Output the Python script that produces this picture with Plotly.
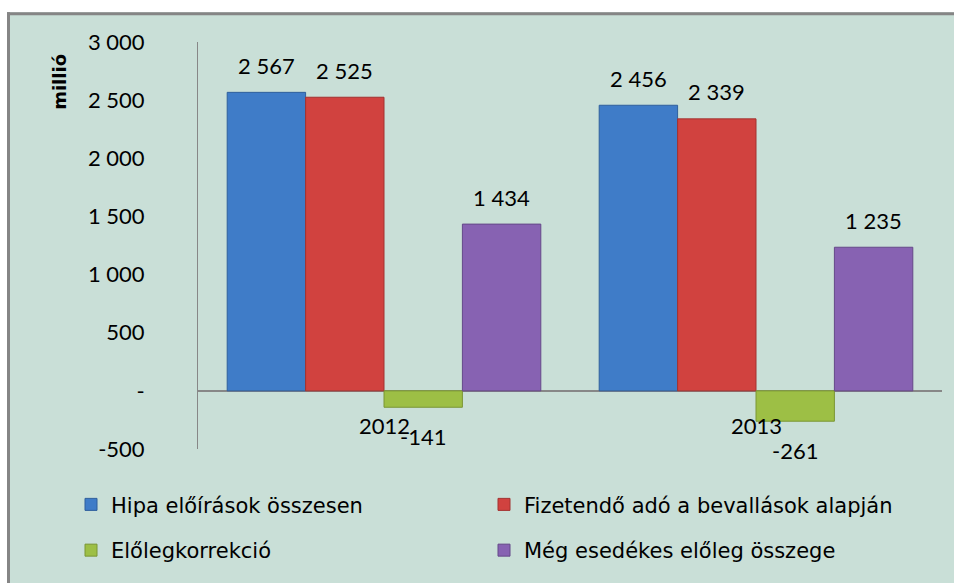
import plotly.graph_objects as go

categories = ["2012", "2013"]
series_names = [
    "Hipa előírások összesen",
    "Fizetendő adó a bevallások alapján",
    "Előlegkorrekció",
    "Még esedékes előleg összege",
]
hipa = [2567, 2456]
fizetendo = [2525, 2339]
korrekcio = [-141, -261]
esedekes = [1434, 1235]
series_values = [hipa, fizetendo, korrekcio, esedekes]

tick_vals = [-500, 0, 500, 1000, 1500, 2000, 2500, 3000]
tick_text = ["-500", "-", "500", "1 000", "1 500", "2 000", "2 500", "3 000"]

colors = ["#3F7CC8", "#D1423F", "#9DBF45", "#8762B2"]
edge_colors = ["#2F5F9C", "#A33230", "#7A9634", "#654889"]
bg = "#C9DFD7"

W, H = 954, 583
ML, MR, MT, MB = 198, 12, 42, 132
PW, PH = W - ML - MR, H - MT - MB


def fx(px):
    return (px - ML) / PW


def fy(py):
    return (H - MB - py) / PH


def fmt(v):
    s = f"{abs(v):,}".replace(",", " ")
    return ("-" if v < 0 else "") + s


bargap = 0.157
n = len(series_values)
bw = (1 - bargap) / n
xs = list(range(len(categories)))

fig = go.Figure()
for j, (name, vals) in enumerate(zip(series_names, series_values)):
    fig.add_trace(go.Bar(
        x=xs, y=vals, name=name,
        marker=dict(color=colors[j], line=dict(color=edge_colors[j], width=1)),
        legend="legend" if j < 2 else "legend2",
    ))

num_font = dict(family="Lato, Liberation Sans, sans-serif", size=22, color="#000000")

annotations = []
for j, vals in enumerate(series_values):
    off = -(1 - bargap) / 2 + (j + 0.5) * bw
    for i, v in enumerate(vals):
        annotations.append(dict(
            x=xs[i] + off, y=v, xref="x", yref="y", text=fmt(v), showarrow=False,
            yshift=27 if v >= 0 else -29, yanchor="middle", xanchor="center",
            font=num_font,
        ))
for i, c in enumerate(categories):
    annotations.append(dict(
        x=xs[i], y=0, xref="x", yref="y", text=c, showarrow=False,
        yshift=-35, yanchor="middle", xanchor="center",
        font=num_font,
    ))
annotations.append(dict(
    x=fx(60), y=fy(82), xref="paper", yref="paper", text="<b>millió</b>",
    showarrow=False, textangle=-90, xanchor="center", yanchor="middle",
    font=dict(family="DejaVu Sans, sans-serif", size=18, color="#000000"),
))

shapes = [
    dict(type="rect", xref="paper", yref="paper", x0=fx(-5), x1=fx(W + 5), y0=fy(12), y1=fy(-5),
         fillcolor="white", line=dict(width=0)),
    dict(type="rect", xref="paper", yref="paper", x0=fx(-5), x1=fx(7), y0=fy(H + 5), y1=fy(-5),
         fillcolor="white", line=dict(width=0)),
    dict(type="line", xref="paper", yref="paper", x0=fx(7), x1=fx(W + 5), y0=fy(13.5), y1=fy(13.5),
         line=dict(color="#858585", width=3)),
    dict(type="line", xref="paper", yref="paper", x0=fx(8.5), x1=fx(8.5), y0=fy(12), y1=fy(H + 5),
         line=dict(color="#858585", width=3)),
]

legend_font = dict(family="DejaVu Sans, sans-serif", size=21, color="#000000")
common_legend = dict(
    orientation="h", xanchor="left", yanchor="middle", x=fx(71),
    bgcolor="rgba(0,0,0,0)", borderwidth=0, font=legend_font,
    entrywidth=368, entrywidthmode="pixels", traceorder="normal",
)

fig.update_layout(
    width=W, height=H,
    margin=dict(l=ML, r=MR, t=MT, b=MB, pad=0),
    paper_bgcolor=bg, plot_bgcolor=bg,
    barmode="group", bargap=bargap, bargroupgap=0,
    showlegend=True,
    legend=dict(common_legend, y=fy(507)),
    legend2=dict(common_legend, y=fy(553)),
    xaxis=dict(range=[-0.5, 1.5], showticklabels=False, showgrid=False, zeroline=False,
               showline=False, ticks=""),
    yaxis=dict(range=[-500, 3000], tickvals=tick_vals, ticktext=tick_text,
               showgrid=False, zeroline=True, zerolinecolor="#878787", zerolinewidth=2,
               showline=True, linecolor="#878787", linewidth=1,
               ticks="outside", ticklen=48, tickcolor="rgba(0,0,0,0)",
               tickfont=num_font),
    annotations=annotations,
    shapes=shapes,
)

fig.write_html(
    "out.html",
    config={"displayModeBar": False},
    post_script="document.body.style.margin='0';document.body.style.overflow='hidden';",
)
